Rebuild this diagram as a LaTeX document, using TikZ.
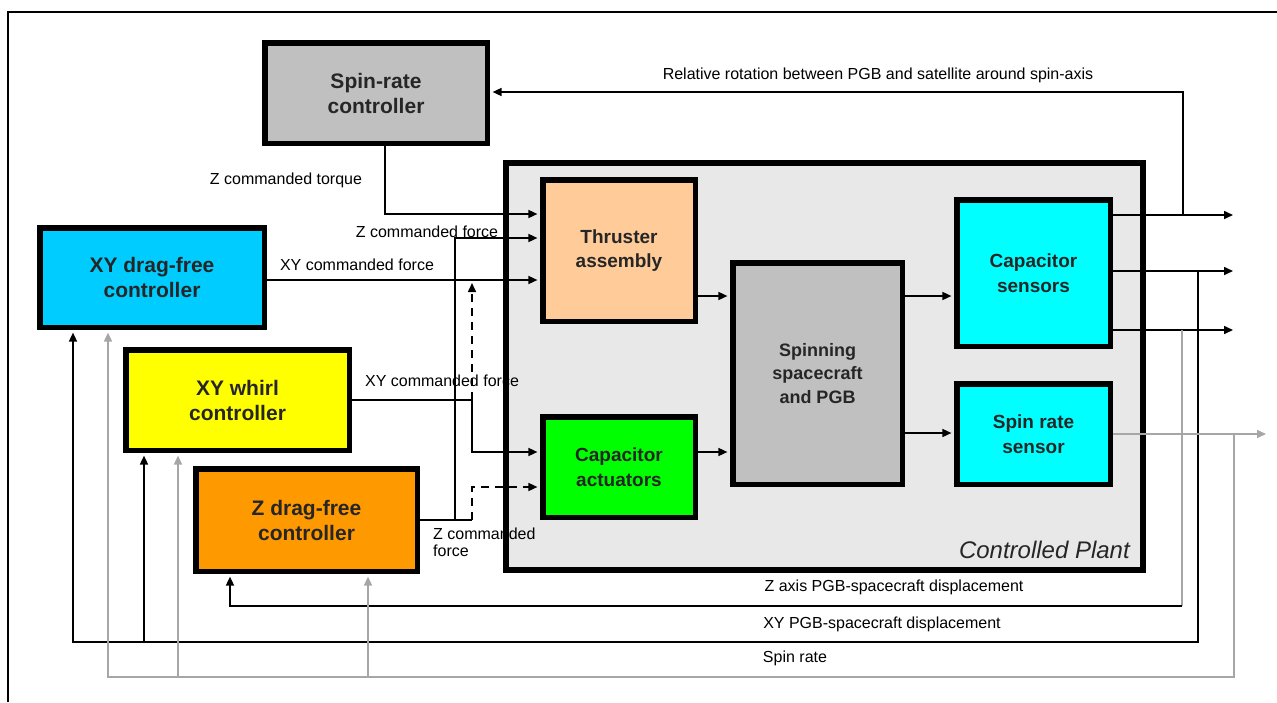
\documentclass[tikz,border=0pt]{standalone}
\usepackage{fontspec}
\setmainfont{Liberation Sans}
\usetikzlibrary{arrows.meta,calc}
\definecolor{spingray}{HTML}{C0C0C0}
\definecolor{plantgray}{HTML}{E8E8E8}
\definecolor{thrcol}{HTML}{FFCC99}
\definecolor{actcol}{HTML}{00FF00}
\definecolor{sencol}{HTML}{00FFFF}
\definecolor{xydcol}{HTML}{00CCFF}
\definecolor{xywcol}{HTML}{FFFF00}
\definecolor{zdcol}{HTML}{FF9900}
\definecolor{fbgray}{HTML}{A6A6A6}
\newcommand{\ctrlfont}{\fontsize{21}{25}\selectfont\bfseries}
\newcommand{\plntfont}{\fontsize{19}{24.5}\selectfont\bfseries}
\newcommand{\spnfont}{\fontsize{18}{23.5}\selectfont\bfseries}
\newcommand{\lblfont}{\fontsize{16}{17}\selectfont}
\tikzset{
  blk/.style={draw=black, line width=5.5pt, align=center, inner sep=0pt, text=black!85},
  con/.style={line width=1.6pt, draw=black},
  arr/.style={con, -{Triangle[length=9pt,width=8pt]}},
  arrb/.style={arr, shorten >=2.6pt},
  gcon/.style={line width=1.6pt, draw=fbgray},
  garr/.style={gcon, -{Triangle[length=9pt,width=8pt]}},
  garrb/.style={garr, shorten >=2.6pt},
  dsh/.style={dash pattern=on 8pt off 6pt},
  lbl/.style={font=\lblfont, inner sep=0pt, text=black}
}
\begin{document}
\begin{tikzpicture}[x=1pt,y=-1pt]
\useasboundingbox (0,0) rectangle (1277,702);
\fill[white] (0,0) rectangle (1277,702);
\draw[line width=1.5pt] (8,702) -- (8,12) -- (1277,12);

% controlled plant
\node[draw=black, line width=6pt, fill=plantgray, minimum width=637pt, minimum height=407pt, inner sep=0pt] (plant) at (824.5,366.5) {};
\node[font=\fontsize{24}{28}\selectfont\itshape, inner sep=0pt, anchor=base east, text=black!85] (plantlbl) at (1130,558) {Controlled Plant};

% blocks
\node[blk, fill=spingray, minimum width=222.5pt, minimum height=100.5pt, font=\ctrlfont] (spin) at (376,93) {Spin-rate\\controller};
\node[blk, fill=thrcol, minimum width=152.5pt, minimum height=141.5pt, font=\plntfont] (thr) at (619,250.5) {Thruster\\assembly};
\node[blk, fill=actcol, minimum width=152.5pt, minimum height=100.5pt, font=\plntfont] (act) at (619,467) {Capacitor\\actuators};
\node[blk, fill=spingray, minimum width=169.5pt, minimum height=221.5pt, font=\spnfont] (spn) at (817.5,373.5) {Spinning\\spacecraft\\and PGB};
\node[blk, fill=sencol, minimum width=153.5pt, minimum height=146.5pt, font=\plntfont] (cs) at (1033.5,273) {Capacitor\\sensors};
\node[blk, fill=sencol, minimum width=153.5pt, minimum height=100.5pt, font=\plntfont] (srs) at (1033.5,434) {Spin rate\\sensor};
\node[blk, fill=xydcol, minimum width=224.5pt, minimum height=99.5pt, font=\ctrlfont] (xyd) at (152,277.5) {XY drag-free\\controller};
\node[blk, fill=xywcol, minimum width=223.5pt, minimum height=100.5pt, font=\ctrlfont] (xyw) at (237.5,400) {XY whirl\\controller};
\node[blk, fill=zdcol, minimum width=221.5pt, minimum height=102.5pt, font=\ctrlfont] (zd) at (306.5,520) {Z drag-free\\controller};

% junction / free-end coordinates
\coordinate (jz) at (472,520);
\coordinate (jz2) at (455,520);
\coordinate (jw) at (472,400);
\coordinate (dtip) at (472,283);
\coordinate (o1) at (1233,215);
\coordinate (o2) at (1233,271);
\coordinate (o3) at (1233,330);
\coordinate (o4) at (1266,434);
\coordinate (rr) at (1183,215);
\coordinate (zax) at (1182,330);
\coordinate (zax2) at (1182,606);
\coordinate (xyj) at (1198,271);
\coordinate (xyl) at (73,642);
\coordinate (srj) at (1234,434);
\coordinate (srl) at (108,677);

% spin-rate controller -> thruster
\draw[arrb] (spin.south -| 385,0) |- (thr.west |- 0,214);
\node[lbl] (l1) at (286,180) {Z commanded torque};

% XY drag-free -> thruster
\draw[arrb] (xyd.east |- 0,280) -- (thr.west |- 0,280);
\node[lbl] (l2) at (357,265) {XY commanded force};

% Z drag-free -> thruster and (dashed) actuators
\draw[con] (zd.east) -- (jz);
\draw[arrb] (jz2) |- (thr.west |- 0,238);
\node[lbl] (l3) at (427,232) {Z commanded force};
\draw[arrb, dsh] (jz) -- (472,487) -- (act.west |- 0,487);
\node[lbl, align=left, anchor=north west, font=\fontsize{16}{17}\selectfont] (l4) at (433,528) {Z commanded\\force};

% XY whirl -> actuators and (dashed) thruster path
\draw[con] (xyw.east) -- (jw);
\draw[arrb] (jw) |- (act.west |- 0,452);
\draw[arr, dsh] (jw) -- (dtip);
\node[lbl] (l5) at (442,381) {XY commanded force};

% plant internal
\draw[arrb] (thr.east |- 0,296) -- (spn.west |- 0,296);
\draw[arrb] (act.east |- 0,452) -- (spn.west |- 0,452);
\draw[arrb] (spn.east |- 0,296) -- (cs.west |- 0,296);
\draw[arrb] (spn.east |- 0,433) -- (srs.west |- 0,433);

% capacitor sensor outputs
\draw[arr] (cs.east |- o1) -- (o1);
\draw[arr] (cs.east |- o2) -- (o2);
\draw[arr] (cs.east |- o3) -- (o3);

% relative rotation feedback
\draw[arrb] (rr) |- (spin.east |- 0,92);
\node[lbl] (l6) at (878,75) {Relative rotation between PGB and satellite around spin-axis};

% Z axis displacement feedback
\draw[gcon] (zax) -- (zax2);
\draw[arrb] (zax2) -| (zd.south -| 230,0);
\node[lbl] (l7) at (894,587) {Z axis PGB-spacecraft displacement};

% XY displacement feedback
\draw[arrb] (xyj) |- (xyl) -- (xyd.south -| xyl);
\draw[arrb] (144,642) -- (xyw.south -| 144,0);
\node[lbl] (l8) at (882,624) {XY PGB-spacecraft displacement};

% spin rate
\draw[garr] (srs.east) -- (o4);
\draw[garrb] (srj) |- (srl) -- (xyd.south -| srl);
\draw[garrb] (178,677) -- (xyw.south -| 178,0);
\draw[garrb] (368,677) -- (zd.south -| 368,0);
\node[lbl] (l9) at (795,658) {Spin rate};
\end{tikzpicture}
\end{document}
